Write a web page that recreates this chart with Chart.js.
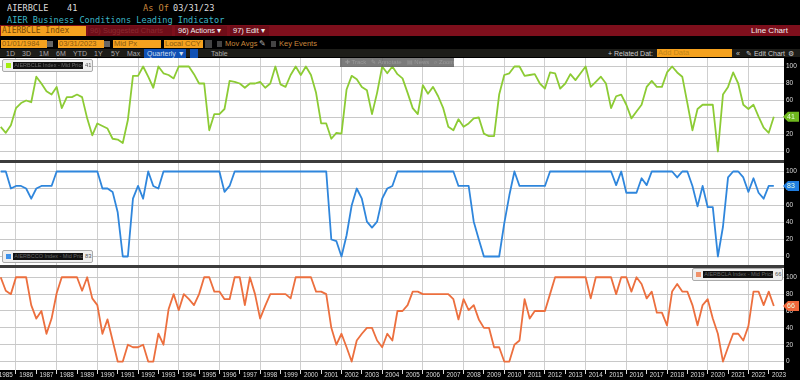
<!DOCTYPE html>
<html><head><meta charset="utf-8">
<script src="https://cdn.jsdelivr.net/npm/chart.js@4"></script>
<style>
html,body{margin:0;padding:0;background:#000;width:800px;height:380px;overflow:hidden}
#w{position:relative;width:800px;height:380px;background:#000;filter:blur(.35px);font-family:"DejaVu Sans Mono",monospace;color:#ddd}
#w div,#w span{position:absolute;white-space:pre;box-sizing:border-box}
canvas{position:absolute;left:0}
.f{background:#f5a21f;color:#8a5a10;height:8px;top:40px;font:7.5px/8px "Liberation Sans",sans-serif;padding-left:1px}
.t{font:7.5px/8px "Liberation Sans",sans-serif}
.r{font:7px/9px "Liberation Sans",sans-serif;top:49px;color:#aaa}
.lg{background:#efefef;border:1px solid #aaa;border-radius:2px;height:13px;width:91px}
.lg i{position:absolute;left:3px;top:3px;width:5px;height:5px}
.lg b{position:absolute;left:10px;top:2px;width:70px;height:7px;background:#111;color:#666;font:normal 5.5px/7px "Liberation Sans",sans-serif;white-space:pre;overflow:hidden}
.lg u{position:absolute;left:82px;top:2px;color:#555;text-decoration:none;font:5.8px/7px "Liberation Sans",sans-serif}
</style></head><body>
<div id="w">
<div style="left:7px;top:3px;font-size:8.6px;line-height:10px">AIERBCLE</div>
<div style="left:67px;top:3px;font-size:8.6px;line-height:10px">41</div>
<div style="left:143px;top:3px;font-size:8.6px;line-height:10px;color:#c8873c">As Of</div>
<div style="left:173px;top:3px;font-size:8.6px;line-height:10px">03/31/23</div>
<div style="left:7px;top:15px;font-size:8.6px;line-height:10px;color:#3cb6c6">AIER Business Conditions Leading Indicator</div>
<div style="left:0;top:25px;width:800px;height:11px;background:#7e0f1c"></div>
<div style="left:1px;top:26px;width:85px;height:10px;background:#f5a21f;color:#7a4a08;font:8px/10px 'DejaVu Sans Mono',monospace;padding-left:1px">AIERBCLE Index</div>
<div class="t" style="left:88px;top:26px;width:84px;height:10px;background:#6e0d18;color:#8a2a30;line-height:10px;padding-left:2px">96) Suggested Charts</div>
<div class="t" style="left:175px;top:26px;width:52px;height:10px;background:#6e0d18;color:#eee;line-height:10px;padding-left:3px">96) Actions ▾</div>
<div class="t" style="left:230px;top:26px;width:39px;height:10px;background:#6e0d18;color:#eee;line-height:10px;padding-left:3px">97) Edit ▾</div>
<div class="t" style="left:751px;top:26px;color:#eee;font-size:8px;line-height:10px">Line Chart</div>
<div class="f" style="left:1px;width:46px">01/01/1984</div>
<div class="f" style="left:58px;width:46px">03/31/2023</div>
<div style="left:47px;top:41px;width:6px;height:6px;background:#666"></div>
<div style="left:104px;top:41px;width:6px;height:6px;background:#666"></div>
<div class="f" style="left:113px;width:48px">Mid Px</div>
<div class="f" style="left:164px;width:39px">Local CCY</div>
<div style="left:205px;top:40px;width:7px;height:8px;background:#444"></div>
<div style="left:217px;top:41px;width:5px;height:6px;background:#444"></div>
<div class="t" style="left:225px;top:40px;color:#c8873c">Mov Avgs</div>
<div class="t" style="left:259px;top:40px;color:#aaa">✎</div>
<div style="left:271px;top:41px;width:5px;height:6px;background:#444"></div>
<div class="t" style="left:279px;top:40px;color:#c8873c">Key Events</div>
<div style="left:0;top:49px;width:800px;height:8px;background:#1d1d19"></div>
<div class="r" style="left:6px">1D</div><div class="r" style="left:22px">3D</div><div class="r" style="left:39px">1M</div><div class="r" style="left:56px">6M</div><div class="r" style="left:73px">YTD</div><div class="r" style="left:94px">1Y</div><div class="r" style="left:111px">5Y</div><div class="r" style="left:127px">Max</div>
<div class="r" style="left:144px;width:42px;height:9px;background:#0f50b4;color:#cde;padding-left:3px">Quarterly ▼</div>
<div style="left:190px;top:49px;width:8px;height:9px;background:#0f50b4"></div>
<div class="r" style="left:211px">Table</div>
<div class="r" style="left:608px;color:#ccc">+ Related Dat:</div>
<div class="f" style="left:657px;top:49px;width:75px;color:#c08418;height:8px">Add Data</div>
<div class="r" style="left:736px;color:#ccc">«</div>
<div class="r" style="left:746px;color:#ccc">✎ Edit Chart</div>
<div class="r" style="left:788px;color:#ccc">⚙</div>
<div style="left:0;top:160px;width:784px;height:3px;background:#3c3c3c"></div>
<div style="left:0;top:265px;width:784px;height:3px;background:#3c3c3c"></div>
<canvas id="c1" width="800" height="102" style="top:58px"></canvas>
<canvas id="c2" width="800" height="102" style="top:163px"></canvas>
<canvas id="c3" width="800" height="112" style="top:268px"></canvas>
<div style="left:340px;top:58px;width:114px;height:9px;background:rgba(90,90,90,.8);color:#999;font:6px/9px 'Liberation Sans',sans-serif;padding-left:5px">✚ Track   ✎ Annotate   ▤ News   ⌕ Zoom</div>
<div class="lg" style="left:2px;top:59px"><i style="background:#a4ee10"></i><b> AIERBCLE Index - Mid Price</b><u>41</u></div>
<div class="lg" style="left:2px;top:250px"><i style="background:#3f92ea"></i><b> AIERBCCO Index - Mid Price</b><u>83</u></div>
<div class="lg" style="left:692px;top:268px"><i style="background:#f0926a"></i><b> AIERBCLA Index - Mid Price</b><u>66</u></div>
</div>
<script>
const years=[1985,1986,1987,1988,1989,1990,1991,1992,1993,1994,1995,1996,1997,1998,1999,2000,2001,2002,2003,2004,2005,2006,2007,2008,2009,2010,2011,2012,2013,2014,2015,2016,2017,2018,2019,2020,2021,2022,2023];
const yTicks=[0,20,40,60,80,100];
const leading=[29,22,31,51,57,60,58,88,80,71,67,76,51,64,64,67,64,39,19,33,30,27,15,14,10,37,89,89,100,88,75,100,92,90,86,100,100,100,91,80,80,25,44,44,50,83,82,80,75,80,80,82,75,80,100,79,76,90,100,90,100,90,69,33,33,15,22,21,73,89,85,76,72,44,69,100,92,100,91,86,69,51,44,78,68,76,65,51,29,25,38,29,33,39,40,21,18,18,67,90,92,100,100,89,90,91,80,74,93,92,74,80,91,84,92,100,76,82,88,80,51,65,67,55,39,47,55,76,83,76,76,93,100,93,88,57,25,50,55,55,55,0,67,76,93,80,55,50,55,41,28,22,41];
const coincident=[100,100,80,83,83,80,68,80,83,83,83,100,100,100,100,100,100,100,100,100,80,80,76,52,0,0,68,83,68,100,83,80,100,100,100,100,100,100,100,100,100,100,100,100,76,83,100,100,100,100,100,100,100,100,100,100,100,100,100,100,100,100,100,100,100,20,18,0,25,60,80,68,41,34,41,68,80,83,100,100,100,100,100,100,100,100,100,100,100,100,83,83,83,41,20,0,0,0,0,39,72,100,83,83,83,83,83,83,100,100,100,100,100,100,100,100,100,100,100,100,100,84,100,75,75,75,92,84,100,100,100,100,100,93,100,100,83,59,83,58,58,0,35,93,100,100,93,76,92,75,68,83,83];
const lagging=[100,84,80,100,100,100,67,51,60,33,51,81,100,100,100,100,84,100,75,67,33,50,25,0,0,20,17,17,20,0,0,33,20,62,80,61,80,74,67,80,100,100,83,83,74,74,100,100,67,100,80,51,66,80,80,80,80,75,100,100,100,100,83,83,80,40,20,33,17,0,25,33,40,40,25,17,33,25,60,60,67,83,83,80,80,80,80,80,80,74,50,74,61,67,50,40,40,17,17,0,0,20,25,74,51,60,60,60,80,100,100,100,100,100,100,100,75,100,100,100,100,80,100,100,83,100,92,75,83,58,58,43,83,92,83,83,67,43,67,74,51,33,0,17,33,33,25,42,83,83,67,83,66];
const quarterEnds=years.flatMap(y=>[y+.25,y+.5,y+.75,y+1]).slice(0,leading.length);

const chrome={id:'chrome',
 beforeDraw(c){const a=c.chartArea,g=c.ctx;g.save();g.fillStyle='#000';g.fillRect(0,0,c.width,c.height);g.fillStyle='#fff';g.fillRect(a.left,a.top,a.width,a.height);g.restore();},
 afterDraw(c){const a=c.chartArea,g=c.ctx,ds=c.data.datasets[0],v=ds.data[ds.data.length-1].y,y=c.scales.y.getPixelForValue(v);
  g.save();g.fillStyle=ds.tagColor;g.beginPath();g.moveTo(a.right-1,y);g.lineTo(a.right+4,y-5);g.lineTo(799,y-5);g.lineTo(799,y+5);g.lineTo(a.right+4,y+5);g.closePath();g.fill();
  g.fillStyle='#e8ffe0';g.font='7px "Liberation Sans",sans-serif';g.textAlign='center';g.textBaseline='middle';g.fillText(String(v),791,y+.5);g.restore();}};

function panel(id,values,color,tagColor,showX,top){
 new Chart(document.getElementById(id),{type:'line',plugins:[chrome],
 data:{datasets:[{data:values.map((v,i)=>({x:quarterEnds[i],y:v})),borderColor:color,tagColor,borderWidth:1.8,pointRadius:0,tension:0,borderJoinStyle:'round'}]},
 options:{responsive:false,animation:false,layout:{padding:0,autoPadding:false},
  plugins:{legend:{display:false},tooltip:{enabled:false}},
  scales:{
   x:{type:'linear',min:1985.215,max:2023.75,
    afterBuildTicks(s){s.ticks=years.flatMap(y=>[{value:y},{value:y+.5}]).filter(t=>t.value>=s.min&&t.value<=s.max);},
    afterFit(s){s.height=showX?10:0;s.paddingLeft=s.paddingRight=0;},
    border:{display:false},
    grid:{drawTicks:showX,tickLength:showX?4:0,tickColor:ctx=>Number.isInteger(ctx.tick&&ctx.tick.value)?'#ddd':'rgba(0,0,0,0)',
      color:ctx=>(ctx.tick&&ctx.tick.value%2===0)?'#cfcfcf':'rgba(0,0,0,0)',borderDash:[2,2],lineWidth:1},
    ticks:{display:showX,autoSkip:false,maxRotation:0,minRotation:0,padding:-3,color:'#ddd',font:{size:6.3,family:'"Liberation Sans",sans-serif'},
      callback:v=>Number.isInteger(v)?'':String(Math.floor(v))}},
   y:{position:'right',min:-10,max:top,
    afterBuildTicks(s){s.ticks=yTicks.map(value=>({value}));},
    afterFit(s){s.width=16;s.paddingTop=s.paddingBottom=0;},
    border:{display:false},
    grid:{color:'#c8c8c8',borderDash:[2,2],lineWidth:1,drawTicks:false},
    ticks:{padding:2,color:'#ddd',font:{size:6.5,family:'"Liberation Sans",sans-serif'},callback:v=>String(v)}}
  }}});
}
panel('c1',leading,'#8ccb34','#6fb81e',false,110);
panel('c2',coincident,'#2f86dc','#1f7de0',false,110);
panel('c3',lagging,'#ec6f3e','#f0683c',true,111);
</script>
</body></html>
